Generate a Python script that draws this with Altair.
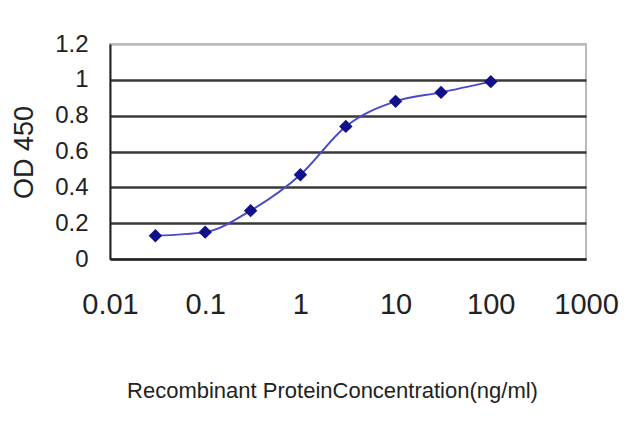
import altair as alt
import pandas as pd

# ---------------------------------------------------------
# DATA
# ---------------------------------------------------------
concentration = [0.03, 0.1, 0.3, 1, 3, 10, 30, 100]
od450 = [0.13, 0.15, 0.27, 0.47, 0.74, 0.88, 0.93, 0.99]

x_ticks = [0.01, 0.1, 1, 10, 100, 1000]
y_ticks = [0, 0.2, 0.4, 0.6, 0.8, 1, 1.2]

df = pd.DataFrame({"conc": concentration, "od": od450})

FONT = "Liberation Sans"

x_enc = alt.X(
    "conc:Q",
    scale=alt.Scale(type="log", domain=[0.01, 1000]),
    axis=alt.Axis(
        values=x_ticks,
        labelExpr="datum.value >= 1 ? format(datum.value, 'd') : format(datum.value, '')",
        grid=False,
        domainColor="#222222",
        domainWidth=2,
        tickSize=0,
        labelFontSize=29,
        labelColor="#222222",
        labelPadding=31,
        labelFlush=False,
        labelOverlap=False,
        title="Recombinant ProteinConcentration(ng/ml)",
        titleFontSize=22,
        titleFontWeight="normal",
        titleColor="#222222",
        titleX=222,
        titleY=131,
        titleBaseline="middle",
        titleAlign="center",
    ),
)

y_enc = alt.Y(
    "od:Q",
    scale=alt.Scale(domain=[0, 1.2], nice=False),
    axis=alt.Axis(
        values=y_ticks,
        tickCount=7,
        labelExpr="format(datum.value, '')",
        labelOverlap=False,
        labelFlush=False,
        grid=True,
        gridColor={"condition": {"test": "datum.value > 1.1", "value": "#bbbbbb"}, "value": "#383838"},
        gridWidth=2.5,
        domainColor="#222222",
        domainWidth=2,
        tickSize=0,
        labelFontSize=24,
        labelColor="#222222",
        labelPadding=22,
        title="OD 450",
        titleFontSize=27,
        titleFontWeight="normal",
        titleColor="#222222",
        titleAngle=-90,
        titleX=-86,
        titleY=108,
        titleBaseline="middle",
        titleAlign="center",
    ),
)

base = alt.Chart(df).encode(x=x_enc, y=y_enc)

line = base.mark_line(color="#4a4ac8", strokeWidth=2, interpolate="monotone")

points = base.mark_point(
    shape="diamond", filled=True, color="#10108a", size=180, opacity=1
)

chart = (
    alt.layer(line, points)
    .properties(
        width=476,
        height=215,
        autosize="none",
        padding={"left": 102, "top": 36, "right": 46, "bottom": 150},
    )
    .configure(font=FONT)
    .configure_view(stroke="#bbbbbb", strokeWidth=2)
)

chart.save("out.html", embed_options={"renderer": "svg", "actions": False})
